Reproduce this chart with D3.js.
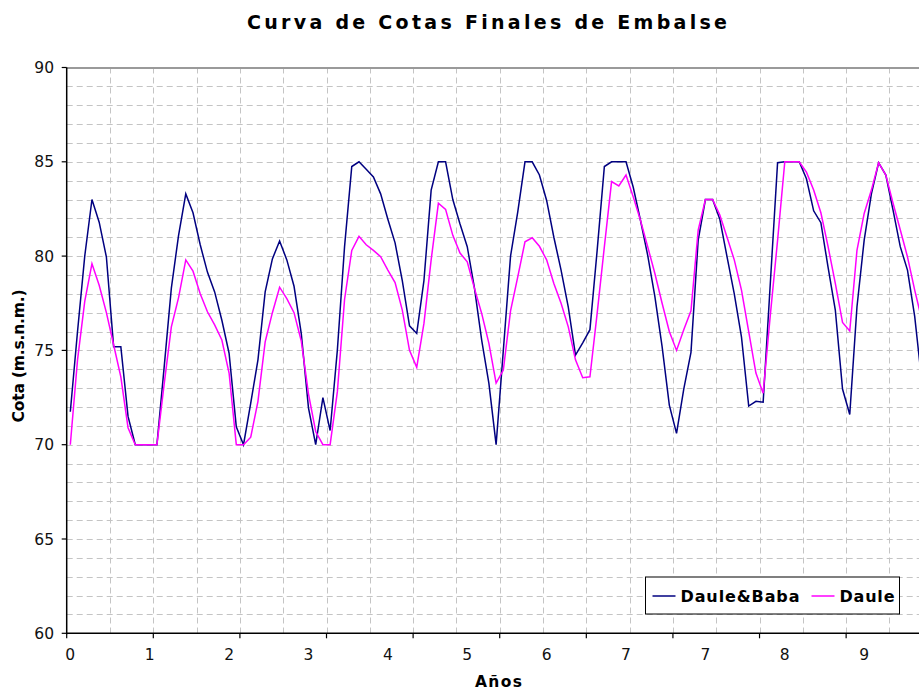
<!DOCTYPE html>
<html>
<head>
<meta charset="utf-8">
<script src="https://cdn.jsdelivr.net/npm/d3@7"></script>
<style>
  body { margin: 0; background: #fff; }
  svg { display: block; font-family: "DejaVu Sans", Verdana, sans-serif; }
</style>
</head>
<body>
<svg id="chart" width="919" height="690"></svg>
<script>
// monthly final reservoir levels (m.s.n.m.)
var dauleBaba = [
  71.75, 76.0, 80.0, 83.0, 81.8, 79.95, 75.2, 75.2, 71.5, 70.0,
  70.0, 70.0, 70.0, 74.1, 78.3, 81.1, 83.3, 82.3, 80.6, 79.15,
  78.1, 76.6, 74.85, 70.95, 70.0, 72.2, 74.5, 78.1, 79.85, 80.8,
  79.8, 78.4, 75.9, 71.95, 70.0, 72.5, 70.75, 75.0, 80.5, 84.75,
  85.0, 84.6, 84.2, 83.3, 81.95, 80.7, 78.7, 76.3, 75.9, 78.7,
  83.5, 85.0, 85.0, 83.0, 81.7, 80.5, 78.3, 75.55, 73.25, 70.0,
  75.0, 80.0, 82.35, 85.0, 85.0, 84.3, 82.95, 81.0, 79.26, 77.3,
  74.75, 75.4, 76.1, 80.3, 84.75, 85.0, 85.0, 85.0, 83.65, 81.9,
  80.05, 77.85, 75.2, 72.1, 70.6, 72.95, 74.9, 80.85, 83.0, 83.0,
  81.95, 79.96, 78.0, 75.7, 72.05, 72.3, 72.25, 78.6, 84.95, 85.0,
  85.0, 85.0, 84.1, 82.4, 81.77, 79.4, 77.14, 72.95, 71.6, 77.3,
  80.85, 83.3, 84.95, 84.3, 82.44, 80.5, 79.26, 76.8, 73.3, 71.5
];
var daule = [
  70.0, 74.5, 77.6, 79.6, 78.45, 77.0, 75.3, 73.6, 70.9, 70.0,
  70.0, 70.0, 70.0, 73.2, 76.25, 77.8, 79.8, 79.2, 78.0, 77.05,
  76.35, 75.55, 73.8, 70.0, 70.0, 70.4, 72.3, 75.45, 77.0, 78.35,
  77.75, 77.0, 75.5, 72.7, 70.7, 70.0, 70.0, 72.8, 77.7, 80.3,
  81.05, 80.6, 80.3, 79.97, 79.26, 78.6, 77.14, 75.0, 74.1, 76.43,
  79.8, 82.8, 82.48, 81.1, 80.16, 79.7, 78.29, 76.96, 75.37, 73.27,
  73.96, 77.1, 78.9, 80.76, 80.97, 80.52, 79.8, 78.55, 77.5, 76.25,
  74.5, 73.55, 73.6, 76.96, 80.5, 83.95, 83.72, 84.3, 83.14, 81.9,
  80.5, 79.08, 77.5, 76.0, 75.0, 76.1, 77.1, 81.38, 83.0, 83.0,
  82.18, 81.0, 79.8, 78.2, 76.0, 73.8, 72.73, 76.9, 80.83, 85.0,
  85.0, 85.0, 84.45, 83.5, 82.3, 80.5, 78.55, 76.48, 76.03, 80.3,
  82.26, 83.5, 84.95, 84.3, 82.8, 81.4, 79.96, 78.2, 76.6, 75.0
];
var xTickLabels = ["0", "1", "2", "3", "4", "5", "6", "7", "7", "8", "9"];
var yTicks = [60, 65, 70, 75, 80, 85, 90];
var seriesNames = ["Daule&Baba", "Daule"];
var seriesColors = ["#000080", "#ff00ff"];

var labelEvery = 11,   // one label every 11 months
    tickEvery = 12,    // tick marks every 12 months
    gridEvery = 6;     // vertical gridline every 6 months

(function() {
  var svg = d3.select("#chart");
  // note: can't call it "top", that's window.top
  var left = 66.7, plotTop = 67.5, bottom = 633.3, bw = 7.217;

  var x = d3.scaleBand()
      .domain(d3.range(dauleBaba.length))
      .range([left, left + bw * dauleBaba.length])
      .paddingInner(0).paddingOuter(0);

  var y = d3.scaleLinear().domain([60, 90]).range([bottom, plotTop]);

  var cx = function(i) { return x(i) + x.bandwidth() / 2; };
  var edge = function(i) { return i < dauleBaba.length ? x(i) : x.range()[1]; };

  // horizontal dashed gridlines, one per metre
  var grid = svg.append("g").attr("stroke", "#c4c4c4").attr("stroke-width", 1)
      .attr("stroke-dasharray", "6,4");
  grid.selectAll("line.h")
      .data(d3.range(61, 90))
      .join("line")
      .attr("class", "h")
      .attr("x1", left).attr("x2", 919)
      .attr("y1", d => Math.round(y(d)) + 0.5)
      .attr("y2", d => Math.round(y(d)) + 0.5);

  // vertical dashed gridlines
  grid.selectAll("line.v")
      .data(d3.range(gridEvery, dauleBaba.length + 1, gridEvery))
      .join("line")
      .attr("class", "v")
      .attr("x1", d => Math.round(edge(d)) + 0.5)
      .attr("x2", d => Math.round(edge(d)) + 0.5)
      .attr("y1", plotTop).attr("y2", bottom);

  // top border of plot area
  svg.append("line")
      .attr("x1", left).attr("x2", 919)
      .attr("y1", Math.round(plotTop)).attr("y2", Math.round(plotTop))
      .attr("stroke", "#9a9a9a").attr("stroke-width", 2);

  // series
  var line = d3.line()
      .x((d, i) => cx(i))
      .y(d => y(d));

  [dauleBaba, daule].forEach(function(s, k) {
    svg.append("path")
        .datum(s)
        .attr("fill", "none")
        .attr("stroke", seriesColors[k])
        .attr("stroke-width", 1.5)
        .attr("d", line);
  });

  // y axis
  var yAxis = svg.append("g");
  yAxis.append("line")
      .attr("x1", left).attr("x2", left)
      .attr("y1", plotTop).attr("y2", bottom + 1)
      .attr("stroke", "#000").attr("stroke-width", 1.5);
  yAxis.selectAll("line.tick")
      .data(yTicks)
      .join("line")
      .attr("class", "tick")
      .attr("x1", left - 5).attr("x2", left)
      .attr("y1", d => y(d)).attr("y2", d => y(d))
      .attr("stroke", "#000").attr("stroke-width", 1.2);
  yAxis.selectAll("text")
      .data(yTicks)
      .join("text")
      .attr("x", 54)
      .attr("y", d => y(d))
      .attr("dy", "0.36em")
      .attr("text-anchor", "end")
      .style("font-size", "15.5px")
      .attr("fill", "#111")
      .text(d => d);

  // x axis
  var xAxis = svg.append("g");
  xAxis.append("line")
      .attr("x1", left).attr("x2", 919)
      .attr("y1", bottom).attr("y2", bottom)
      .attr("stroke", "#000").attr("stroke-width", 1.5);
  xAxis.selectAll("line.tick")
      .data(d3.range(0, dauleBaba.length + 1, tickEvery))
      .join("line")
      .attr("class", "tick")
      .attr("x1", d => edge(d)).attr("x2", d => edge(d))
      .attr("y1", bottom).attr("y2", bottom + 5)
      .attr("stroke", "#000").attr("stroke-width", 1.2);
  xAxis.selectAll("text")
      .data(xTickLabels)
      .join("text")
      .attr("x", (d, i) => cx(i * labelEvery))
      .attr("y", 660)
      .attr("text-anchor", "middle")
      .style("font-size", "15.5px")
      .attr("fill", "#111")
      .text(d => d);

  // titles
  svg.append("text")
      .attr("x", 487).attr("y", 29)
      .attr("text-anchor", "middle")
      .attr("textLength", 480).attr("lengthAdjust", "spacing")
      .style("font-size", "19px").style("font-weight", "bold")
      .text("Curva de Cotas Finales de Embalse");

  svg.append("text")
      .attr("x", 498.5).attr("y", 687)
      .attr("text-anchor", "middle")
      .attr("textLength", 47).attr("lengthAdjust", "spacing")
      .style("font-size", "15.5px").style("font-weight", "bold")
      .text("Años");

  svg.append("text")
      .attr("transform", "translate(24,356) rotate(-90)")
      .attr("text-anchor", "middle")
      .attr("textLength", 133).attr("lengthAdjust", "spacing")
      .style("font-size", "15.5px").style("font-weight", "bold")
      .text("Cota (m.s.n.m.)");

  // legend
  var lg = svg.append("g").attr("transform", "translate(645.5,577)");
  lg.append("rect")
      .attr("width", 254).attr("height", 37)
      .attr("fill", "#fff").attr("stroke", "#000").attr("stroke-width", 1);
  var items = [{x0: 7, tx: 35, len: 119}, {x0: 166, tx: 194, len: 55}];
  items.forEach(function(it, k) {
    lg.append("line")
        .attr("x1", it.x0).attr("x2", it.x0 + 23)
        .attr("y1", 19).attr("y2", 19)
        .attr("stroke", seriesColors[k]).attr("stroke-width", 1.5);
    lg.append("text")
        .attr("x", it.tx).attr("y", 25)
        .attr("textLength", it.len).attr("lengthAdjust", "spacing")
        .style("font-size", "16px").style("font-weight", "bold")
        .text(seriesNames[k]);
  });
})();
</script>
</body>
</html>
